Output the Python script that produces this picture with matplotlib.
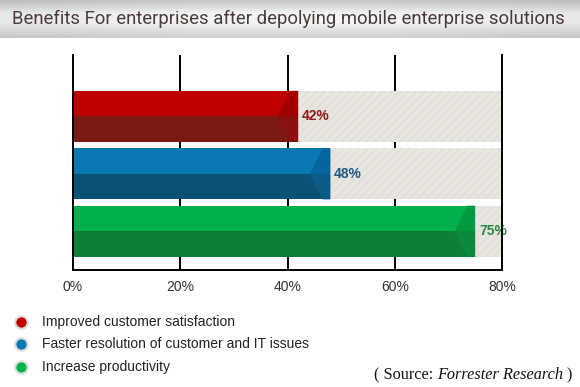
import matplotlib
matplotlib.use("Agg")
import matplotlib.pyplot as plt
import numpy as np
from matplotlib.patches import Polygon, Rectangle

# ---- data ----
categories = ["Improved customer satisfaction",
              "Faster resolution of customer and IT issues",
              "Increase productivity"]
values = [42, 48, 75]
xticks = [0, 20, 40, 60, 80]
xtick_labels = ["0%", "20%", "40%", "60%", "80%"]
title = "Benefits For enterprises after depolying mobile enterprise solutions"

# ---- styles ----
top_cols = ["#c00000", "#0a78b2", "#00b04b"]
topcap_cols = ["#a00000", "#06659c", "#009b40"]
bot_cols = ["#7b1a12", "#0a5276", "#0e7f38"]
botcap_cols = ["#8c1010", "#0a5c88", "#0b8a3c"]
label_cols = ["#8e1c1c", "#1d5a88", "#2a8a44"]
track_col = "#e7e5e0"

plt.rcParams['hatch.linewidth'] = 0.6
fig = plt.figure(figsize=(5.8, 3.87), dpi=100)
fig.patch.set_facecolor("white")

# title band
W, H = 580, 387
tax = fig.add_axes([0, 1 - 38 / H, 1, 38 / H])
grad = np.concatenate([np.linspace(0.78, 0.96, 14), np.full(8, 0.96),
                       np.linspace(0.96, 0.82, 16)])
img = np.repeat(grad[:, None], 10, axis=1)
hshade = 1 - 0.05 * (np.abs(np.linspace(-1, 1, 10)) ** 2)
img = img * hshade[None, :]
tax.imshow(np.dstack([img, img, img]), aspect="auto", extent=[0, 1, 0, 1],
           interpolation="bicubic")
tax.set_axis_off()
tax.text(0.021, 0.5, title, transform=tax.transAxes, fontsize=13.3,
         color="#4a3b3b", va="center", ha="left", family="Roboto")

# main axes
ax = fig.add_axes([73 / W, (H - 270) / H, 429 / W, 215 / H])
ax.set_xlim(0, 80)
ypos = np.arange(len(values))
ax.set_ylim(2.675, -1.07)
h = 0.89

for g in [20, 40, 60]:
    ax.axvline(g, color="black", lw=1.4, zorder=1)

ax.barh(ypos, [80] * len(values), height=h, color=track_col, hatch="////",
        edgecolor="#dcd9d2", lw=0, zorder=2)

d1, d2 = 3.9, 1.45
for i, (y, v) in enumerate(zip(ypos, values)):
    yt, ym, yb = y - h / 2, y, y + h / 2
    ax.add_patch(Rectangle((0, yt), v, h / 2, color=top_cols[i], lw=0, zorder=3))
    ax.add_patch(Rectangle((0, ym), v, h / 2, color=bot_cols[i], lw=0, zorder=3))
    ax.add_patch(Polygon([(v - d2, yt), (v - d1, ym), (v, ym), (v, yt)],
                         closed=True, color=topcap_cols[i], lw=0, zorder=4))
    ax.add_patch(Polygon([(v - d1, ym), (v - d2, yb), (v, yb), (v, ym)],
                         closed=True, color=botcap_cols[i], lw=0, zorder=4))
    ax.text(v + 0.7, y, f"{v}%", color=label_cols[i], fontsize=10,
            fontweight="bold", va="center", ha="left", zorder=5,
            family="Liberation Sans")

ax.spines["top"].set_visible(False)
for s in ["left", "bottom", "right"]:
    ax.spines[s].set_linewidth(1.4)
    ax.spines[s].set_zorder(6)
ax.set_yticks([])
ax.set_xticks(xticks)
ax.set_xticklabels(xtick_labels, fontsize=10, color="#333333",
                   family="Liberation Sans")
ax.tick_params(axis="x", length=0, pad=7)

# legend
ly = [322, 344, 367]
for i, cat in enumerate(categories):
    fy = 1 - ly[i] / H
    fig.lines.append(plt.Line2D([21 / W], [fy], marker="o", markersize=9,
                                markerfacecolor=top_cols[i],
                                markeredgecolor="#dedede", markeredgewidth=1.6,
                                transform=fig.transFigure, linestyle="none"))
    fig.text(42 / W, fy, cat, fontsize=10, color="#222222", va="center",
             ha="left", family="Liberation Sans")

# source (three pieces laid side by side)
renderer = fig.canvas.get_renderer()
sy = 1 - 375 / H
x = 374 / W
for txt, st in [("( Source:", "normal"), ("Forrester Research", "italic"), (")", "normal")]:
    t = fig.text(x, sy, txt, fontsize=11.7, family="Liberation Serif", style=st,
                 va="center", ha="left", color="#111111")
    bb = t.get_window_extent(renderer)
    x = (bb.x1 + 3.5) / W

fig.savefig("out.png", dpi=100)
